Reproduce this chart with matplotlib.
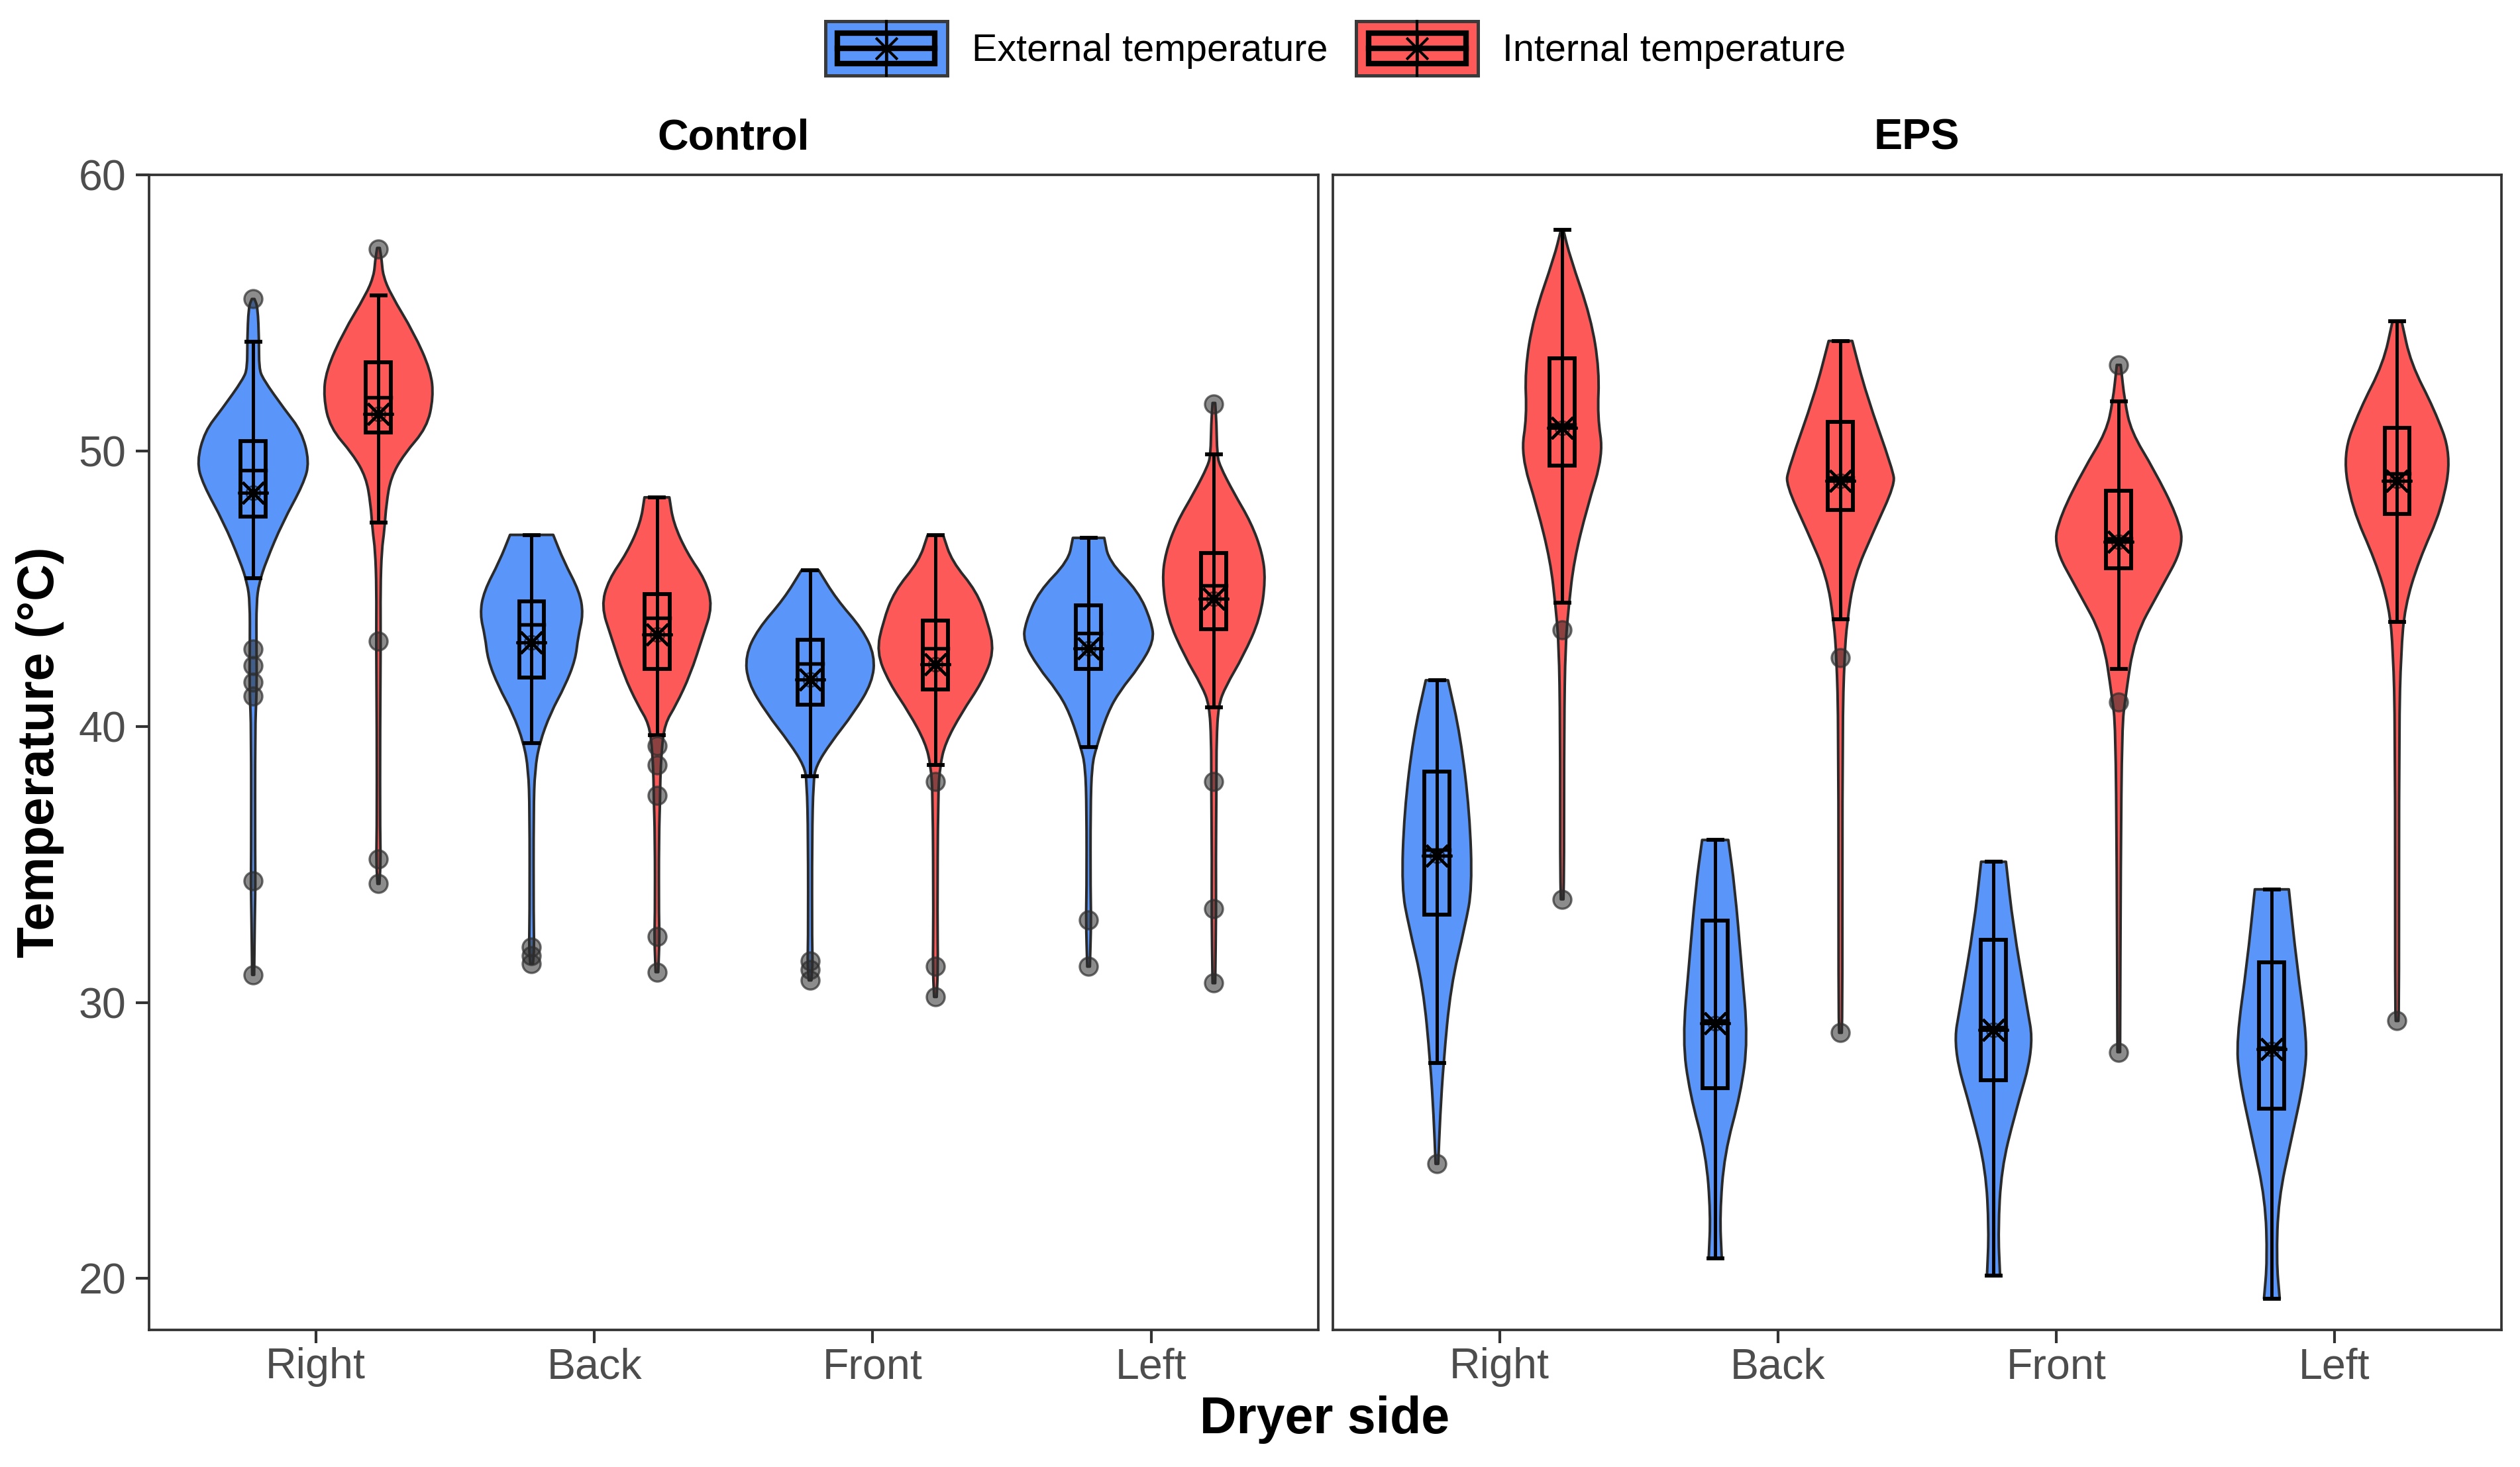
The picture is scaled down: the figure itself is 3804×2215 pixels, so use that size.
import numpy as np
import matplotlib
matplotlib.use("Agg")
import matplotlib.pyplot as plt
from matplotlib.path import Path
from matplotlib.patches import PathPatch, Rectangle, Patch
from matplotlib.lines import Line2D
from matplotlib.legend_handler import HandlerBase

plt.rcParams['font.family'] = ['Liberation Sans', 'DejaVu Sans']

# ---------------- data ----------------
SIDES = ["Right", "Back", "Front", "Left"]
PANELS = ["Control", "EPS"]
SERIES = ["External temperature", "Internal temperature"]

# violin density profiles (temperature knots, top -> bottom; relative density)
CTRL_EXT_T = [
    [55.5, 55.2, 54.0, 53.0, 52.6, 51.5, 50.7, 49.6, 48.8, 47.4, 46.0, 45.2, 44.5, 43.0, 42.0, 41.0, 40.0, 35.0, 34.4, 33.0, 31.0],
    [46.95, 46.0, 44.9, 44.08, 43.26, 42.43, 41.47, 40.5, 39.4, 38.43, 37.0, 33.0, 32.0, 31.4],
    [45.67, 44.63, 43.53, 42.57, 41.6, 40.5, 39.4, 38.57, 38.0, 36.0, 32.0, 31.5, 30.8],
    [46.84, 46.0, 44.9, 43.8, 43.1, 42.15, 41.3, 40.5, 39.26, 38.57, 37.0, 34.0, 33.0, 31.3],
]
CTRL_EXT_D = [
    [0.02, 0.07, 0.09, 0.09, 0.15, 0.48, 0.74, 0.86, 0.77, 0.45, 0.20, 0.09, 0.05, 0.05, 0.055, 0.05, 0.03, 0.03, 0.035, 0.025, 0.015],
    [0.33, 0.49, 0.73, 0.79, 0.71, 0.67, 0.51, 0.29, 0.12, 0.05, 0.03, 0.03, 0.04, 0.02],
    [0.13, 0.40, 0.80, 0.99, 0.95, 0.67, 0.31, 0.09, 0.05, 0.03, 0.03, 0.04, 0.02],
    [0.24, 0.31, 0.76, 0.96, 1.00, 0.77, 0.48, 0.29, 0.12, 0.05, 0.03, 0.03, 0.04, 0.02],
]
CTRL_INT_T = [
    [57.35, 56.9, 56.35, 55.66, 54.28, 52.9, 51.94, 50.84, 49.87, 49.04, 48.08, 47.1, 46.4, 45.0, 43.1, 40.0, 36.0, 35.2, 34.3],
    [48.31, 47.39, 46.29, 45.32, 44.36, 43.26, 41.88, 40.77, 40.1, 39.12, 38.0, 37.5, 36.0, 33.0, 32.4, 31.1],
    [46.93, 46.0, 44.9, 43.8, 42.7, 41.6, 40.5, 39.4, 38.57, 37.5, 33.0, 31.3, 30.2],
    [51.73, 51.0, 49.87, 49.46, 48.49, 47.39, 46.29, 45.32, 43.94, 42.56, 41.46, 40.78, 39.5, 38.0, 35.0, 33.4, 30.7],
]
CTRL_INT_D = [
    [0.02, 0.05, 0.07, 0.19, 0.54, 0.80, 0.84, 0.74, 0.39, 0.19, 0.12, 0.09, 0.05, 0.03, 0.035, 0.025, 0.025, 0.035, 0.015],
    [0.19, 0.25, 0.46, 0.74, 0.85, 0.70, 0.51, 0.29, 0.12, 0.07, 0.05, 0.05, 0.03, 0.03, 0.04, 0.02],
    [0.12, 0.25, 0.63, 0.80, 0.90, 0.71, 0.40, 0.15, 0.07, 0.04, 0.03, 0.04, 0.02],
    [0.02, 0.04, 0.05, 0.09, 0.30, 0.57, 0.74, 0.79, 0.71, 0.45, 0.18, 0.07, 0.04, 0.04, 0.03, 0.035, 0.02],
]
EPS_EXT_T = [
    [41.68, 39.66, 36.9, 34.15, 32.77, 30.57, 27.8, 25.9, 24.15],
    [35.89, 34.15, 31.4, 28.64, 26.71, 24.5, 22.3, 20.73],
    [35.1, 32.77, 30.0, 28.36, 25.9, 23.95, 21.75, 20.1],
    [34.1, 31.4, 28.64, 27.26, 25.06, 22.85, 20.65, 19.27],
]
EPS_EXT_D = [
    [0.17, 0.36, 0.50, 0.54, 0.43, 0.21, 0.10, 0.05, 0.02],
    [0.20, 0.30, 0.40, 0.50, 0.39, 0.14, 0.07, 0.10],
    [0.19, 0.30, 0.50, 0.62, 0.32, 0.12, 0.07, 0.10],
    [0.26, 0.38, 0.54, 0.50, 0.30, 0.10, 0.07, 0.12],
]
EPS_INT_T = [
    [57.99, 57.03, 54.82, 52.9, 51.24, 49.86, 47.93, 46.0, 44.35, 43.0, 40.0, 35.0, 33.74],
    [53.98, 52.07, 49.31, 48.76, 47.1, 45.45, 43.8, 42.5, 40.0, 30.0, 28.9],
    [53.11, 51.8, 50.69, 49.31, 47.66, 46.55, 44.9, 43.25, 41.04, 40.0, 35.0, 28.2],
    [54.69, 53.17, 51.5, 49.86, 47.93, 46.0, 44.35, 42.7, 40.0, 30.0, 29.33],
]
EPS_INT_D = [
    [0.02, 0.12, 0.44, 0.57, 0.54, 0.63, 0.38, 0.18, 0.10, 0.05, 0.03, 0.03, 0.02],
    [0.18, 0.39, 0.80, 0.83, 0.51, 0.21, 0.10, 0.06, 0.03, 0.03, 0.02],
    [0.03, 0.09, 0.19, 0.54, 0.89, 1.00, 0.62, 0.24, 0.10, 0.05, 0.03, 0.02],
    [0.07, 0.21, 0.57, 0.83, 0.69, 0.33, 0.12, 0.06, 0.03, 0.03, 0.02],
]

# box-plot statistics per side (Right, Back, Front, Left)
CTRL_EXT_Q1 = [47.60, 41.77, 40.80, 42.08]
CTRL_EXT_MED = [49.29, 43.70, 42.29, 43.39]
CTRL_EXT_Q3 = [50.34, 44.54, 43.14, 44.39]
CTRL_EXT_WLO = [45.39, 39.40, 38.20, 39.26]
CTRL_EXT_WHI = [53.94, 46.95, 45.67, 46.84]
CTRL_EXT_MEAN = [48.47, 43.05, 41.71, 42.84]
CTRL_EXT_OUT = [[55.5, 42.8, 42.2, 41.6, 41.1, 34.4, 31.0], [32.0, 31.7, 31.4], [31.5, 31.2, 30.8], [33.0, 31.3]]

CTRL_INT_Q1 = [50.67, 42.08, 41.35, 43.53]
CTRL_INT_MED = [51.94, 43.94, 42.84, 45.11]
CTRL_INT_Q3 = [53.20, 44.80, 43.84, 46.29]
CTRL_INT_WLO = [47.39, 39.70, 38.60, 40.70]
CTRL_INT_WHI = [55.62, 48.31, 46.93, 49.87]
CTRL_INT_MEAN = [51.34, 43.35, 42.26, 44.63]
CTRL_INT_OUT = [[57.3, 43.1, 35.2, 34.3], [39.3, 38.6, 37.5, 32.4, 31.1], [38.0, 31.3, 30.2], [51.7, 38.0, 33.4, 30.7]]

EPS_EXT_Q1 = [33.19, 26.90, 27.18, 26.16]
EPS_EXT_MED = [35.53, 29.33, 29.11, 28.36]
EPS_EXT_Q3 = [38.37, 32.97, 32.28, 31.45]
EPS_EXT_WLO = [27.80, 20.73, 20.10, 19.27]
EPS_EXT_WHI = [41.68, 35.89, 35.10, 34.10]
EPS_EXT_MEAN = [35.31, 29.25, 29.00, 28.31]
EPS_EXT_OUT = [[24.15], [], [], []]

EPS_INT_Q1 = [49.45, 47.85, 45.73, 47.71]
EPS_INT_MED = [50.96, 49.03, 46.83, 49.17]
EPS_INT_Q3 = [53.36, 51.05, 48.54, 50.83]
EPS_INT_WLO = [44.49, 43.88, 42.10, 43.80]
EPS_INT_WHI = [58.00, 53.98, 51.80, 54.69]
EPS_INT_MEAN = [50.83, 48.90, 46.69, 48.90]
EPS_INT_OUT = [[43.5, 33.74], [42.5, 28.9], [53.1, 40.9, 28.2], [29.33]]

Y_TICKS = [20, 30, 40, 50, 60]

# ---------------- style ----------------
BLUE = "#5A96F9"
RED = "#FE5959"
OUTLINE = "#2a2a2a"
GRID_GRAY = "#333333"
TICK_TXT = "#4d4d4d"
DODGE = 0.225
HALF_MAX = 0.235
BOX_W = 0.09
CAP_W = 0.05

W, H = 3804, 2215
fig = plt.figure(figsize=(W / 300, H / 300), dpi=300)

def fx(px):
    return px / W

def fy(py):
    return 1 - py / H

ax_l = fig.add_axes([fx(224.5), fy(2008), fx(1990) - fx(224.5), fy(264) - fy(2008)])
ax_r = fig.add_axes([fx(2011.5), fy(2008), fx(3776) - fx(2011.5), fy(264) - fy(2008)])


def smooth_codes(pts):
    """quadratic-bezier smoothing through a polyline, starting at pts[0] (already there)."""
    verts, codes = [], []
    n = len(pts)
    if n < 3:
        for p in pts[1:]:
            verts.append(p)
            codes.append(Path.LINETO)
        return verts, codes
    m = lambda a, b: ((a[0] + b[0]) / 2, (a[1] + b[1]) / 2)
    verts.append(m(pts[0], pts[1])); codes.append(Path.LINETO)
    for i in range(1, n - 1):
        verts.append(pts[i]); codes.append(Path.CURVE3)
        verts.append(m(pts[i], pts[i + 1])); codes.append(Path.CURVE3)
    verts.append(pts[-1]); codes.append(Path.LINETO)
    return verts, codes


def draw_violin(ax, c, temps, dens, color):
    right = [(c + d * HALF_MAX, t) for t, d in zip(temps, dens)]
    left = [(c - d * HALF_MAX, t) for t, d in zip(temps, dens)][::-1]
    verts = [right[0]]
    codes = [Path.MOVETO]
    v, cd = smooth_codes(right)
    verts += v; codes += cd
    verts.append(left[0]); codes.append(Path.LINETO)
    v, cd = smooth_codes(left)
    verts += v; codes += cd
    verts.append(right[0]); codes.append(Path.CLOSEPOLY)
    patch = PathPatch(Path(verts, codes), facecolor=color, edgecolor=OUTLINE,
                      lw=0.95, zorder=2, joinstyle='round')
    ax.add_patch(patch)


def draw_box(ax, c, q1, med, q3, wlo, whi, mean, outs):
    ax.plot([c, c], [wlo, whi], color='black', lw=1.2, zorder=4, solid_capstyle='butt')
    for w in (wlo, whi):
        ax.plot([c - CAP_W / 2, c + CAP_W / 2], [w, w], color='black', lw=1.4, zorder=4)
    ax.add_patch(Rectangle((c - BOX_W / 2, q1), BOX_W, q3 - q1, facecolor='none',
                           edgecolor='black', lw=1.4, zorder=4))
    ax.plot([c - BOX_W / 2, c + BOX_W / 2], [med, med], color='black', lw=1.3, zorder=4)
    ax.plot([c], [mean], marker=(8, 2, 0), ms=11, mec='black', mew=1.0, zorder=5, ls='none')
    ax.plot([c], [mean], marker='o', ms=5, mfc='none', mec=(0, 0, 0, 0.6), mew=0.7, zorder=5, ls='none')
    if outs:
        ax.plot([c] * len(outs), outs, ls='none', marker='o', ms=6.5,
                mfc=(0.18, 0.18, 0.18, 0.55), mec=(0.18, 0.18, 0.18, 0.7), mew=0.8, zorder=6)


groups = {
    "Control": [
        (CTRL_EXT_T, CTRL_EXT_D, CTRL_EXT_Q1, CTRL_EXT_MED, CTRL_EXT_Q3, CTRL_EXT_WLO, CTRL_EXT_WHI, CTRL_EXT_MEAN, CTRL_EXT_OUT, BLUE, -1),
        (CTRL_INT_T, CTRL_INT_D, CTRL_INT_Q1, CTRL_INT_MED, CTRL_INT_Q3, CTRL_INT_WLO, CTRL_INT_WHI, CTRL_INT_MEAN, CTRL_INT_OUT, RED, 1),
    ],
    "EPS": [
        (EPS_EXT_T, EPS_EXT_D, EPS_EXT_Q1, EPS_EXT_MED, EPS_EXT_Q3, EPS_EXT_WLO, EPS_EXT_WHI, EPS_EXT_MEAN, EPS_EXT_OUT, BLUE, -1),
        (EPS_INT_T, EPS_INT_D, EPS_INT_Q1, EPS_INT_MED, EPS_INT_Q3, EPS_INT_WLO, EPS_INT_WHI, EPS_INT_MEAN, EPS_INT_OUT, RED, 1),
    ],
}

for ax, panel in zip([ax_l, ax_r], PANELS):
    for (T, D, Q1, MED, Q3, WLO, WHI, MEAN, OUT, col, sgn) in groups[panel]:
        for i, side in enumerate(SIDES):
            c = i + 1 + sgn * DODGE
            draw_violin(ax, c, T[i], D[i], col)
            draw_box(ax, c, Q1[i], MED[i], Q3[i], WLO[i], WHI[i], MEAN[i], OUT[i])
    ax.set_xlim(0.4, 4.6)
    ax.set_ylim(18.13, 60)
    ax.set_xticks(range(1, len(SIDES) + 1))
    ax.set_xticklabels(SIDES)
    ax.set_yticks(Y_TICKS)
    for s in ax.spines.values():
        s.set_color(GRID_GRAY)
        s.set_linewidth(0.9)
    ax.tick_params(axis='both', direction='out', length=4.8, width=1.0, color=GRID_GRAY,
                   labelcolor=TICK_TXT, labelsize=15.5)
    ax.tick_params(axis='x', pad=1.5)
    ax.tick_params(axis='y', pad=3.4)
    ax.text(0.5, 1 + 55 / 1744, panel, transform=ax.transAxes, ha='center', va='center',
            fontsize=15.5, fontweight='bold', color='black')

ax_r.tick_params(axis='y', left=False, labelleft=False)

fig.text(fx(2000), fy(2144), "Dryer side", ha='center', va='center', fontsize=18.5, fontweight='bold')
fig.text(fx(61), fy(1136), "Temperature (°C)", ha='center', va='center', rotation=90,
         fontsize=18.5, fontweight='bold')


class BoxKeyHandler(HandlerBase):
    def create_artists(self, legend, orig_handle, xdescent, ydescent, width, height, fontsize, trans):
        x0, y0 = -xdescent, -ydescent
        fc = orig_handle.get_facecolor()
        bg = Rectangle((x0, y0), width, height, facecolor=fc, edgecolor='#3a3a3a', lw=1.2, transform=trans)
        bx = Rectangle((x0 + 0.1 * width, y0 + 0.22 * height), 0.8 * width, 0.56 * height,
                       facecolor='none', edgecolor='black', lw=2.0, transform=trans)
        med = Line2D([x0 + 0.1 * width, x0 + 0.9 * width], [y0 + 0.5 * height] * 2,
                     color='black', lw=2.0, transform=trans)
        vl = Line2D([x0 + 0.5 * width] * 2, [y0, y0 + height], color='black', lw=1.0, transform=trans)
        st = Line2D([x0 + 0.5 * width], [y0 + 0.5 * height], marker=(8, 2, 0), ms=11,
                    mec='black', mew=0.9, ls='none', transform=trans)
        return [bg, bx, med, vl, st]


handles = [Patch(facecolor=BLUE, label=SERIES[0]), Patch(facecolor=RED, label=SERIES[1])]
fig.legend(handles=handles, labels=SERIES, loc='center', bbox_to_anchor=(fx(2016), fy(73)),
           ncol=2, frameon=False, fontsize=13.8, handlelength=3.2, handleheight=1.83,
           handletextpad=0.64, columnspacing=0.75,
           handler_map={Patch: BoxKeyHandler()})

fig.savefig("out.png", dpi=300)
